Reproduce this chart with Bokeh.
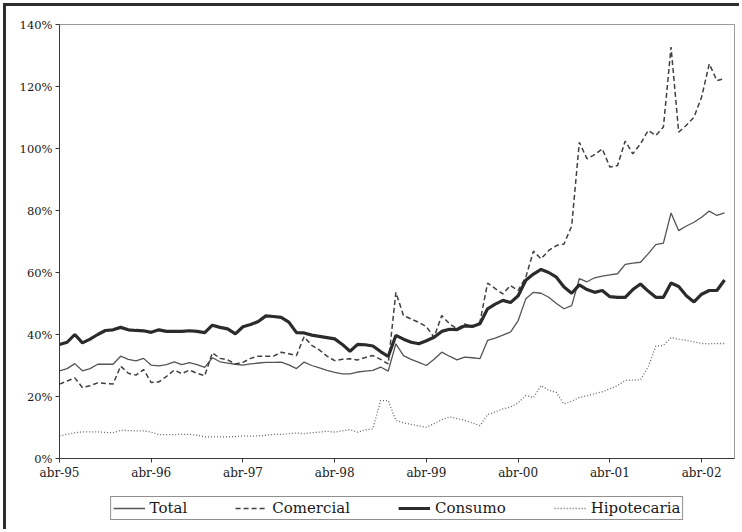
from bokeh.plotting import figure
from bokeh.models import (Legend, LegendItem, FixedTicker, PrintfTickFormatter,
                          Range1d, ColumnDataSource)
from bokeh.layouts import column
from bokeh.embed import file_html
from bokeh.resources import INLINE

# Monthly ratios (%), abr-95 .. jul-02
tick_labels = ["abr-95", "abr-96", "abr-97", "abr-98", "abr-99", "abr-00", "abr-01", "abr-02"]
tick_months = [0, 12, 24, 36, 48, 60, 72, 84]
series_names = ["Total", "Comercial", "Consumo", "Hipotecaria"]

total = [28.3, 29.0, 30.6, 28.3, 29.0, 30.4, 30.4, 30.4, 33.0, 32.0, 31.5, 32.3,
         30.1, 29.9, 30.3, 31.2, 30.3, 30.9, 30.3, 29.4, 32.5, 31.2, 30.8, 30.4,
         30.1, 30.5, 30.8, 31.0, 31.0, 31.1, 30.2, 29.0, 31.1, 30.0, 29.2, 28.4,
         27.8, 27.3, 27.3, 27.9, 28.2, 28.4, 29.5, 28.2, 37.0, 33.2, 32.0, 31.0,
         30.0, 32.0, 34.3, 33.0, 31.8, 32.7, 32.5, 32.2, 38.1, 38.8, 39.8, 40.8,
         44.5, 51.5, 53.6, 53.3, 52.0, 50.0, 48.3, 49.3, 58.0, 57.0, 58.3, 58.8,
         59.2, 59.6, 62.6, 63.0, 63.3, 66.0, 69.0, 69.5, 79.2, 73.5, 75.0, 76.2,
         77.8, 79.8, 78.4, 79.2]

comercial = [24.0, 25.0, 26.0, 22.9, 23.5, 24.4, 24.2, 24.0, 29.8, 27.5, 26.9, 28.7,
             24.5, 24.7, 26.5, 28.5, 27.4, 28.5, 27.5, 26.7, 34.1, 32.3, 31.8, 30.5,
             31.0, 32.3, 33.0, 33.0, 33.0, 34.3, 33.8, 33.2, 39.3, 36.5, 35.0, 33.0,
             31.6, 32.0, 32.2, 31.8, 32.6, 33.2, 32.0, 30.5, 53.6, 46.1, 45.0, 43.9,
             42.5, 39.1, 46.1, 43.5, 41.8, 43.4, 42.4, 44.0, 56.6, 54.8, 53.1, 55.8,
             54.2, 58.5, 66.9, 64.4, 67.1, 68.7, 69.2, 75.0, 102.0, 96.7, 98.0, 99.9,
             94.0, 94.5, 102.4, 98.3, 101.5, 105.8, 104.2, 106.9, 132.7, 105.3, 107.5, 110.1,
             116.6, 127.3, 121.9, 122.5]

consumo = [36.8, 37.5, 40.0, 37.3, 38.5, 40.0, 41.3, 41.5, 42.3, 41.5, 41.3, 41.2,
           40.7, 41.5, 41.0, 41.0, 41.0, 41.2, 41.0, 40.6, 43.0, 42.3, 41.8, 40.2,
           42.5, 43.2, 44.2, 46.0, 45.8, 45.5, 44.0, 40.6, 40.5, 39.8, 39.4, 39.0,
           38.6, 36.8, 34.6, 36.8, 36.7, 36.3, 34.5, 32.9, 39.7, 38.5, 37.5, 37.0,
           38.0, 39.1, 41.0, 41.7, 41.6, 42.8, 42.6, 43.5, 48.3, 49.8, 51.0, 50.3,
           52.5, 57.5, 59.5, 61.0, 60.0, 58.5, 55.3, 53.3, 56.0, 54.5, 53.6, 54.2,
           52.2, 52.0, 52.0, 54.5, 56.3, 54.0, 52.0, 52.0, 56.6, 55.5, 52.5, 50.5,
           53.0, 54.2, 54.2, 57.6]

hipotecaria = [7.3, 7.8, 8.3, 8.6, 8.6, 8.6, 8.4, 8.3, 9.1, 9.0, 8.9, 8.9,
               8.5, 7.7, 7.7, 7.7, 7.8, 7.8, 7.5, 7.0, 7.0, 7.0, 7.0, 7.1,
               7.3, 7.2, 7.3, 7.5, 7.8, 7.8, 8.0, 8.2, 8.0, 8.3, 8.5, 8.8,
               8.5, 8.9, 9.3, 8.5, 9.2, 9.6, 18.7, 18.7, 12.3, 11.5, 11.0, 10.5,
               10.1, 11.2, 12.5, 13.4, 12.9, 12.3, 11.5, 10.6, 14.2, 15.0, 16.0, 16.6,
               18.0, 20.3, 19.7, 23.5, 22.0, 21.3, 17.6, 18.5, 19.7, 20.2, 20.9, 21.5,
               22.5, 23.5, 25.2, 25.3, 25.4, 29.5, 36.2, 36.5, 39.0, 38.5, 38.1, 37.6,
               37.1, 37.0, 37.1, 37.1]

months = list(range(len(total)))

src = ColumnDataSource(dict(m=months, total=total, comercial=comercial,
                            consumo=consumo, hipotecaria=hipotecaria))

SERIF = "DejaVu Serif"
styles_kw = [
    dict(line_color="#555555", line_width=1.3),
    dict(line_color="#404040", line_width=1.5, line_dash="5 3"),
    dict(line_color="#2b2b2b", line_width=3.2),
    dict(line_color="#666666", line_width=1.3, line_dash="1 2"),
]

# ---------------- main chart ----------------
p = figure(width=736, height=480, output_backend="svg", toolbar_location=None,
           x_range=Range1d(0, 88.3), y_range=Range1d(0, 140),
           min_border_left=53, min_border_right=8, min_border_top=18,
           min_border_bottom=28,
           styles={"margin-left": "3px", "margin-top": "3px",
                   "border-left": "3px solid #2e2e2e",
                   "border-top": "3px solid #2e2e2e"})
p.grid.visible = False
p.outline_line_color = "#9a9a9a"
p.outline_line_width = 1
p.background_fill_color = "white"
p.border_fill_color = "white"

p.xaxis.ticker = FixedTicker(ticks=tick_months)
p.xaxis.major_label_overrides = {m: lab for m, lab in zip(tick_months, tick_labels)}
p.yaxis.ticker = FixedTicker(ticks=[0, 20, 40, 60, 80, 100, 120, 140])
p.yaxis.formatter = PrintfTickFormatter(format="%d%%")
for ax in (p.xaxis, p.yaxis):
    ax.axis_line_color = "#3a3a3a"
    ax.axis_line_width = 1
    ax.major_tick_line_color = "#3a3a3a"
    ax.major_tick_out = 4
    ax.major_tick_in = 0
    ax.minor_tick_line_color = None
    ax.major_label_text_font = SERIF
    ax.major_label_text_color = "#1a1a1a"
    ax.major_label_standoff = 3
p.xaxis.major_label_text_font_size = "12px"
p.yaxis.major_label_text_font_size = "11.5px"

cols = ["total", "comercial", "consumo", "hipotecaria"]
draw_order = [0, 1, 3, 2]
for i in draw_order:
    p.line("m", cols[i], source=src, **styles_kw[i])

# ---------------- legend strip ----------------
lg = figure(width=736, height=46, output_backend="svg", toolbar_location=None,
            x_range=Range1d(0, 1), y_range=Range1d(0, 1),
            x_axis_location=None, y_axis_location=None,
            min_border_left=12, min_border_right=0, min_border_top=4,
            min_border_bottom=0,
            styles={"margin-left": "3px", "border-left": "3px solid #2e2e2e"})
lg.grid.visible = False
lg.outline_line_color = None
lg.background_fill_color = "white"
lg.border_fill_color = "white"

items = []
for i, name in enumerate(series_names):
    # key-only renderer: its points lie outside the strip's range, so only the legend key shows
    r = lg.line(x=[5, 6], y=[5, 5], **styles_kw[i])
    items.append(LegendItem(label=name, renderers=[r]))

legend = Legend(items=items, orientation="horizontal", location="center",
                border_line_color="#222222", border_line_width=1,
                background_fill_alpha=1.0, padding=2, spacing=48,
                glyph_width=32, glyph_height=14, label_height=14,
                label_standoff=5, label_text_font=SERIF,
                label_text_font_size="15px", label_text_color="#1a1a1a",
                margin=0)
lg.add_layout(legend)

layout = column(p, lg, spacing=0)
open("out.html", "w").write(file_html(layout, INLINE))
